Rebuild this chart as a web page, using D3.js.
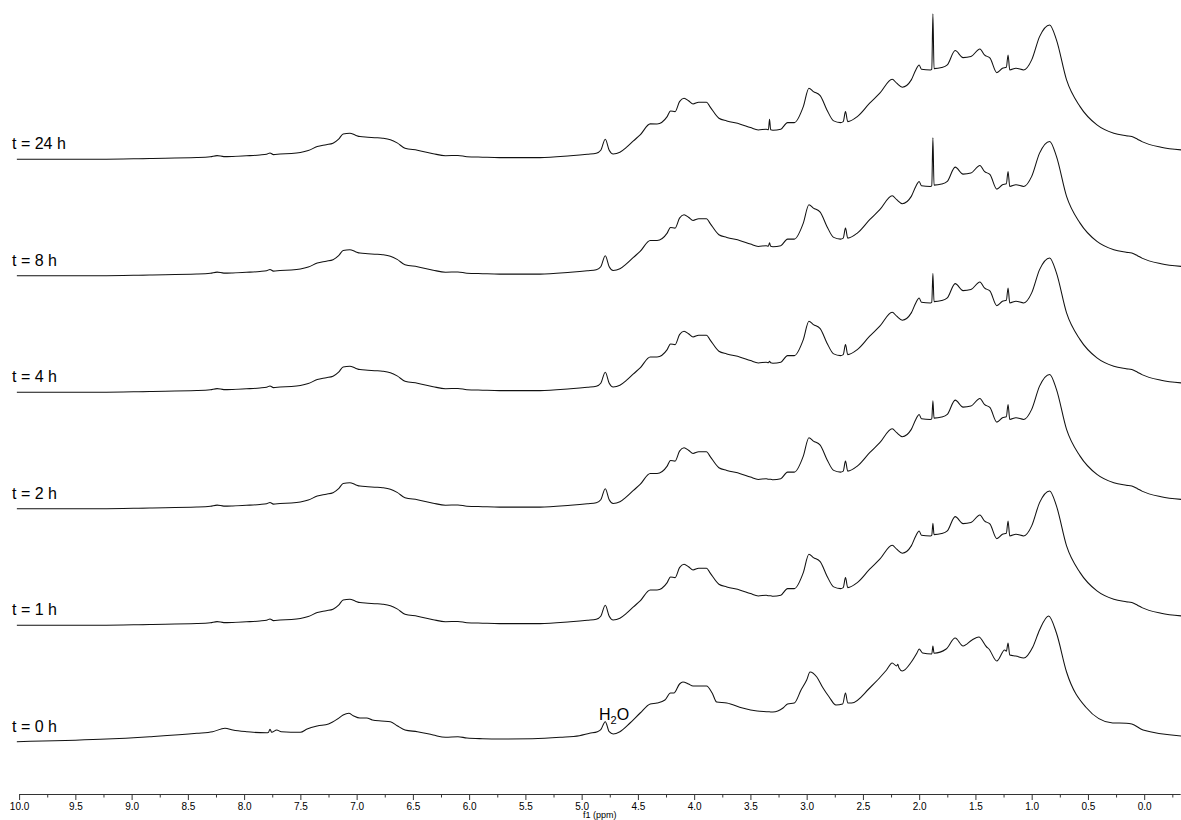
<!DOCTYPE html>
<html>
<head>
<meta charset="utf-8">
<script src="https://cdn.jsdelivr.net/npm/d3@7"></script>
<style>
  body { margin: 0; background: #fff; }
  svg { display: block; }
  text { font-family: Arial, "Liberation Sans", sans-serif; }
</style>
</head>
<body>
<svg id="chart" width="1181" height="820"></svg>
<script>
// Stacked 1H NMR spectra, bottom (t = 0 h) to top (t = 24 h)
const timeLabels = ["t = 0 h", "t = 1 h", "t = 2 h", "t = 4 h", "t = 8 h", "t = 24 h"];
const profileOf = ["early", "late", "late", "late", "late", "late"];

// Sharp singlets that change with time: acetate (~1.88 ppm) and methanol (~3.33 ppm)
const acetatePpm = 1.878;
const acetatePeak = [95.7, 102, 108, 119, 138, 145.3];
const methanolPpm = 3.33;
const methanolPeak = [null, null, null, 31, 33, 40];

// Broad spectral envelope, [ppm, intensity]
const earlyProfile = [
  [10.02, 0], [9.28, 2.4], [8.84, 5.0], [8.42, 8.4], [8.28, 10], [8.17, 13.4], [8.10, 11.7],
  [7.98, 10], [7.92, 9.4], [7.80, 9], [7.785, 9.2], [7.77, 12.4], [7.755, 9.4], [7.71, 11.7],
  [7.67, 10], [7.50, 9.4], [7.44, 12.7], [7.35, 15.7], [7.25, 17.7], [7.17, 22.7], [7.12, 26.7],
  [7.07, 28.4], [7.03, 26], [6.97, 23.7], [6.91, 23.7], [6.86, 21.7], [6.78, 20.7], [6.70, 20],
  [6.64, 16], [6.57, 11.7], [6.46, 10], [6.32, 6.7], [6.21, 4.4], [6.10, 5], [6.02, 3.7],
  [5.88, 3], [5.73, 2.7], [5.44, 3], [5.19, 4.4], [5.02, 6], [4.93, 8.4], [4.86, 10],
  [4.83, 12], [4.79, 20], [4.755, 10], [4.72, 7.7], [4.66, 10], [4.57, 18.7], [4.48, 28.7],
  [4.39, 37.7], [4.33, 38.7], [4.26, 41.7], [4.21, 48.7], [4.18, 48.7], [4.13, 57.7], [4.10, 59.7],
  [4.05, 57.7], [4.01, 55.7], [3.92, 55.7], [3.89, 55.7], [3.84, 48.7], [3.80, 39.7], [3.71, 38.7],
  [3.57, 33.7], [3.44, 30.7], [3.34, 30], [3.32, 29.8], [3.30, 29.7], [3.21, 33.7], [3.17, 37.7],
  [3.11, 38.7], [3.05, 51.7], [3.00, 61.7], [2.97, 69.7], [2.91, 64.7], [2.86, 54.7], [2.80, 44.7],
  [2.74, 36.7], [2.68, 37.7], [2.655, 48.7], [2.635, 38.7], [2.60, 38.7], [2.44, 53.7], [2.29, 71.7],
  [2.24, 78.7], [2.20, 75.7], [2.19, 77.4], [2.18, 74], [2.15, 70.7], [2.07, 79.7], [2.02, 88.7],
  [2.00, 92.7], [1.97, 88.7], [1.888, 87.7], [1.868, 88.5], [1.76, 92.7], [1.68, 103.7], [1.61, 95.7],
  [1.53, 101.7], [1.47, 104.7], [1.40, 94.7], [1.38, 92.7], [1.31, 80.7], [1.24, 91.7], [1.225, 90.5],
  [1.21, 98.7], [1.195, 86.7], [1.14, 85.7], [1.07, 83.7], [0.99, 94.7], [0.93, 111.7], [0.85, 125.7],
  [0.78, 108.7], [0.69, 69.7], [0.52, 34.7], [0.28, 18.7], [0.16, 18.5], [0.11, 17.7], [0.01, 11.7],
  [-0.33, 5.7]
];

const lateProfile = [
  [10.02, 0], [9.28, 0], [8.84, 0.8], [8.42, 1.6], [8.30, 2.4], [8.24, 3.6], [8.18, 2.6],
  [8.10, 2.8], [7.98, 3.4], [7.86, 4.2], [7.80, 5.0], [7.77, 6.2], [7.74, 4.6], [7.68, 5.2],
  [7.58, 5.6], [7.50, 6.6], [7.43, 8.6], [7.35, 12.6], [7.27, 14.5], [7.21, 16], [7.16, 20],
  [7.12, 25.3], [7.06, 26], [7.01, 24], [6.97, 22.6], [6.90, 22], [6.84, 21.5], [6.77, 21],
  [6.70, 19.5], [6.64, 16.3], [6.57, 11], [6.46, 9], [6.32, 5.5], [6.21, 3.5], [6.10, 3.8],
  [6.02, 2.5], [5.88, 2], [5.73, 1.6], [5.44, 1.6], [5.37, 1.6], [5.10, 3.5], [4.95, 5.0],
  [4.87, 6], [4.83, 9], [4.79, 20], [4.755, 9], [4.72, 5.3], [4.66, 7], [4.60, 12], [4.54, 18.3],
  [4.48, 24.3], [4.39, 35.3], [4.33, 35.3], [4.24, 42.6], [4.21, 48.3], [4.17, 47.6], [4.13, 57.6],
  [4.09, 61], [4.05, 58.5], [4.01, 55.3], [3.96, 57], [3.89, 57], [3.86, 52.6], [3.78, 41],
  [3.71, 38.3], [3.59, 35], [3.50, 31.6], [3.43, 29.3], [3.36, 30], [3.34, 29.5], [3.32, 29.4],
  [3.30, 29], [3.23, 30], [3.17, 36.6], [3.11, 36.6], [3.03, 52.6], [2.98, 71], [2.94, 67.6],
  [2.88, 63.6], [2.82, 49.3], [2.76, 38.3], [2.70, 36.6], [2.675, 37.6], [2.655, 47.6], [2.635, 37.6],
  [2.55, 42.6], [2.44, 56], [2.35, 66], [2.24, 80], [2.20, 76], [2.15, 72], [2.07, 79.3],
  [2.03, 89.3], [2.00, 94.3], [1.98, 90], [1.90, 89.3], [1.888, 89.8], [1.868, 90.6], [1.80, 91.6],
  [1.75, 94.3], [1.68, 108.6], [1.61, 101.6], [1.54, 102.6], [1.46, 110.3], [1.42, 104.3], [1.37, 101],
  [1.31, 86.6], [1.26, 91], [1.225, 92], [1.21, 104.3], [1.195, 89.3], [1.14, 91], [1.07, 89.3],
  [1.00, 99.3], [0.93, 122.6], [0.84, 134.3], [0.78, 119.3], [0.69, 79.3], [0.57, 52.6], [0.42, 34.3],
  [0.27, 26], [0.16, 23.5], [0.11, 22.6], [0.06, 20], [0.02, 17.6], [-0.15, 12], [-0.33, 9.3]
];

const majorTicks = [10.0, 9.5, 9.0, 8.5, 8.0, 7.5, 7.0, 6.5, 6.0, 5.5, 5.0, 4.5, 4.0, 3.5, 3.0, 2.5, 2.0, 1.5, 1.0, 0.5, 0.0];
const minorTicks = [9.75, 9.25, 8.75, 8.25, 7.75, 7.25, 6.75, 6.25, 5.75, 5.25, 4.75, 4.25, 3.75, 3.25, 2.75, 2.25, 1.75, 1.25, 0.75, 0.25, -0.25];
const axisTitle = "f1 (ppm)";

const svg = d3.select("#chart");

const x = d3.scaleLinear().domain([10, -0.32]).range([19.1, 1180.2]);
// one intensity unit per pixel; each spectrum is lifted by a fixed stack step
const y = d3.scaleLinear().domain([0, 741.7]).range([741.7, 0]);
const stackStep = 116.5;

const profiles = { early: earlyProfile, late: lateProfile };

function traceData(i) {
  const pts = profiles[profileOf[i]].slice();
  if (acetatePeak[i] != null) pts.push([acetatePpm, acetatePeak[i]]);
  if (methanolPeak[i] != null) pts.push([methanolPpm, methanolPeak[i]]);
  return pts.sort((a, b) => b[0] - a[0]);
}

const g = svg.append("g");
timeLabels.forEach((label, i) => {
  const off = i * stackStep;
  const line = d3.line()
    .x(d => x(d[0]))
    .y(d => y(d[1] + off))
    .curve(d3.curveMonotoneX);
  g.append("path")
    .datum(traceData(i))
    .attr("fill", "none")
    .attr("stroke", "#111")
    .attr("stroke-width", 1.05)
    .attr("stroke-linejoin", "round")
    .attr("d", line);
  g.append("text")
    .attr("x", 12)
    .attr("y", y(off) - 10)
    .attr("font-size", 16)
    .attr("fill", "#000")
    .text(label);
});

// water signal annotation on the bottom spectrum
const h2o = g.append("text")
  .attr("x", 599)
  .attr("y", 720)
  .attr("font-size", 16)
  .attr("fill", "#000");
h2o.append("tspan").text("H");
h2o.append("tspan").attr("font-size", 11).attr("dy", 4).text("2");
h2o.append("tspan").attr("dy", -4).text("O");

// chemical shift axis
const axisY = 794;
const axisG = svg.append("g").attr("transform", `translate(0,${axisY})`);
axisG.call(
  d3.axisBottom(x)
    .tickValues(majorTicks)
    .tickFormat(d3.format(".1f"))
    .tickSize(6)
    .tickSizeOuter(0)
    .tickPadding(3)
);
axisG.append("g").call(
  d3.axisBottom(x)
    .tickValues(minorTicks)
    .tickFormat("")
    .tickSize(3.5)
    .tickSizeOuter(0)
).select(".domain").remove();
axisG.selectAll("path, line").attr("stroke", "#333").attr("stroke-width", 1);
axisG.selectAll("text")
  .attr("font-size", 10)
  .attr("font-family", "Arial, 'Liberation Sans', sans-serif")
  .attr("fill", "#000");

svg.append("text")
  .attr("x", (x(10) + x(-0.32)) / 2)
  .attr("y", 818)
  .attr("text-anchor", "middle")
  .attr("font-size", 9)
  .attr("fill", "#000")
  .text(axisTitle);
</script>
</body>
</html>
